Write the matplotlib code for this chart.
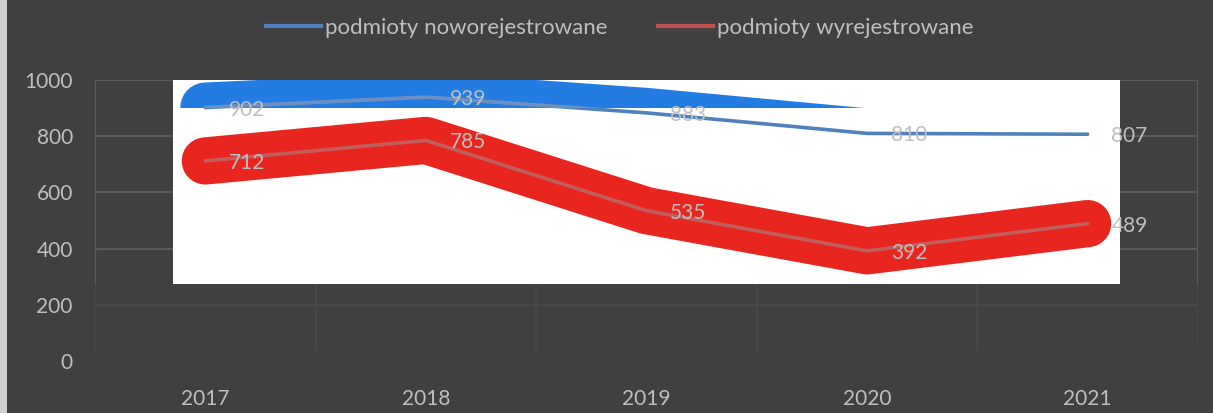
import numpy as np
import matplotlib.pyplot as plt
from matplotlib.patches import Rectangle

years = ['2017', '2018', '2019', '2020', '2021']
nowe = [902, 939, 883, 810, 807]
wyrej = [712, 785, 535, 392, 489]
labels = ['podmioty noworejestrowane', 'podmioty wyrejestrowane']

BG = '#404040'
TXT = '#BFBFBF'
plt.rcParams['font.family'] = ['Lato', 'DejaVu Sans']

fig = plt.figure(figsize=(12.13, 4.13), dpi=100, facecolor=BG)
ax = fig.add_axes([95 / 1213, 52 / 413, 1103 / 1213, 281 / 413])
ax.set_facecolor(BG)
x = np.arange(len(years))
ax.set_xlim(-0.5, len(years) - 0.5)
ax.set_ylim(0, 1000)

# siatka: jasna u góry, ciemniejsza na dole
bounds = np.arange(len(years) + 1) - 0.5
ax.hlines([400, 600, 800, 1000], -0.5, len(years) - 0.5, color='#5A5A5A', lw=1.5, zorder=0.5)
ax.hlines([200], -0.5, len(years) - 0.5, color='#474747', lw=1.5, zorder=0.5)
ax.vlines(bounds, 273, 1000, color='#5A5A5A', lw=1.5, zorder=0.5)
ax.vlines(bounds, 35, 273, color='#474747', lw=1.5, zorder=0.5)

# białe tło wstawione na wykres
ax.add_patch(Rectangle((0.0707, 0.274), 0.8585, 0.726, transform=ax.transAxes,
                       facecolor='white', edgecolor='none', zorder=1))

# grube pociągnięcia
ax.plot(x, wyrej, color='#E8261F', lw=34, solid_capstyle='round',
        solid_joinstyle='round', zorder=2)
thick_blue, = ax.plot(x, nowe, color='#237CE1', lw=36, solid_capstyle='round',
                      solid_joinstyle='round', zorder=2)
thick_blue.set_clip_path(Rectangle((-0.5, 900), len(years), 100, transform=ax.transData))

l1, = ax.plot(x, nowe, color='#4F81BD', lw=2.6, solid_capstyle='round', zorder=3)
l1b, = ax.plot(x, nowe, color='#6E8FC2', lw=2.6, solid_capstyle='round', zorder=3.1)
l1b.set_clip_path(Rectangle((-0.5, 900), len(years), 100, transform=ax.transData))
l2, = ax.plot(x, wyrej, color='#C25E5E', lw=2.6, solid_capstyle='round', zorder=3)

for xi, v in zip(x, nowe):
    ax.annotate(str(v), (xi, v), xytext=(17, 0), textcoords='offset points',
                ha='left', va='center_baseline', color=TXT, fontsize=15, zorder=4)
for xi, v in zip(x, wyrej):
    ax.annotate(str(v), (xi, v), xytext=(17, 0), textcoords='offset points',
                ha='left', va='center_baseline', color=TXT, fontsize=15, zorder=4)

ax.set_xticks(x, years)
ax.set_yticks([0, 200, 400, 600, 800, 1000])
ax.tick_params(axis='both', length=0, colors=TXT, labelsize=15)
ax.tick_params(axis='x', pad=20)
ax.tick_params(axis='y', pad=16)
for s in ax.spines.values():
    s.set_visible(False)

h1 = plt.Line2D([], [], color='#4F81BD', lw=3)
h2 = plt.Line2D([], [], color='#C0504D', lw=3)
fig.legend([h1, h2], labels, loc='center', bbox_to_anchor=(0.511, 0.932), ncol=2,
           frameon=False, fontsize=16, labelcolor=TXT, handlelength=2.48,
           handletextpad=0.18, columnspacing=2.25)

# jasny pasek przy lewej krawędzi
fig.patches.append(Rectangle((0, 0), 7 / 1213, 1, transform=fig.transFigure,
                             facecolor='#D0D0D0', edgecolor='none'))

fig.savefig('out.png', dpi=100, facecolor=BG)
